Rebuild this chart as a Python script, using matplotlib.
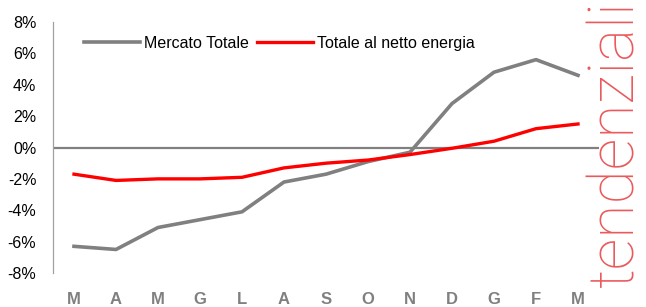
import matplotlib
matplotlib.use('Agg')
import matplotlib.pyplot as plt
from matplotlib import font_manager

plt.rcParams['font.family'] = ['Liberation Sans', 'DejaVu Sans']

# mesi (etichette asse x)
mesi = ['M', 'A', 'M', 'G', 'L', 'A', 'S', 'O', 'N', 'D', 'G', 'F', 'M']

# variazioni tendenziali (%)
mercato_totale = [-6.3, -6.5, -5.1, -4.6, -4.1, -2.2, -1.7, -0.9, -0.3, 2.8, 4.8, 5.6, 4.6]
netto_energia = [-1.7, -2.1, -2.0, -2.0, -1.9, -1.3, -1.0, -0.8, -0.45, -0.05, 0.4, 1.2, 1.5]

fig = plt.figure(figsize=(6.46, 3.07), dpi=100)
ax = fig.add_axes([53 / 646, 1 - 273 / 307, 546 / 646, 251 / 307])

x = range(len(mesi))
ax.plot(x, mercato_totale, color='#808080', lw=2.6, label='Mercato Totale')
ax.plot(x, netto_energia, color='#ff0000', lw=2.4, label='Totale al netto energia')
ax.axhline(0, color='#808080', lw=1.6, zorder=0)

ax.set_xlim(-0.5, len(mesi) - 0.5)
ax.set_ylim(-8, 8)
ax.set_yticks([-8, -6, -4, -2, 0, 2, 4, 6, 8])
ax.set_yticklabels([f'{v}%' for v in range(-8, 9, 2)], fontsize=11.5)
ax.set_xticks(list(x))
ax.set_xticklabels(mesi, fontsize=12, fontweight='bold', color='#808080')
ax.tick_params(axis='x', length=0, pad=14)
ax.tick_params(axis='y', length=0, pad=12)

for s in ['top', 'right', 'bottom']:
    ax.spines[s].set_visible(False)
ax.spines['left'].set_color('#a0a0a0')
ax.spines['left'].set_linewidth(0.9)

ax.legend(loc='upper left', bbox_to_anchor=(0.045, 0.97), ncol=2, frameon=False,
          fontsize=11.5, handlelength=3.5, handletextpad=0.25, columnspacing=0.5,
          borderaxespad=0)

# scritta verticale a destra
fp = font_manager.FontProperties(family=['Roboto', 'DejaVu Sans'], weight='light', size=45)
fig.text(646 / 646, 163 / 307, 'tendenziali', rotation=90, fontproperties=fp,
         color='#e8474a', alpha=0.9, ha='right', va='center')

fig.savefig('out.png', dpi=100)
